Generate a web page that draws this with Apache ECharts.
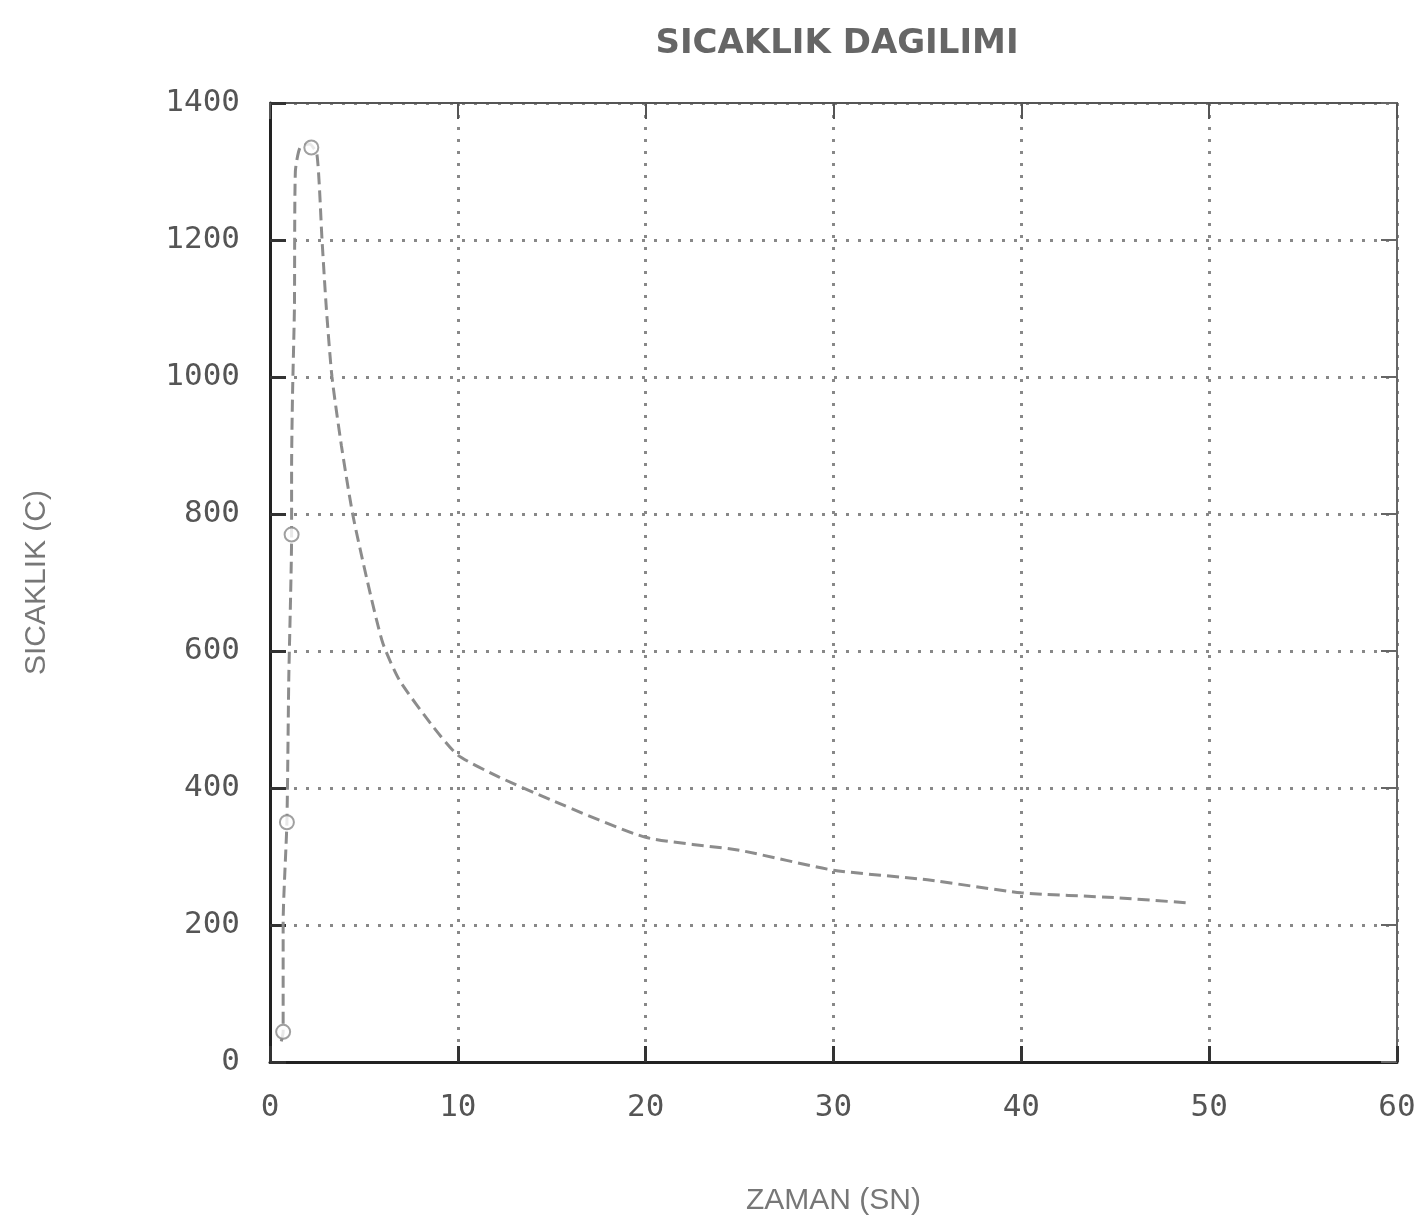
<!DOCTYPE html>
<html>
<head>
<meta charset="utf-8">
<script src="https://cdn.jsdelivr.net/npm/echarts@6/dist/echarts.min.js"></script>
<style>
  html, body { margin: 0; padding: 0; background: #fff; }
  #main { width: 1424px; height: 1230px; }
</style>
</head>
<body>
<div id="main"></div>
<script>
// zaman (sn) / sicaklik (C) values
var zaman = [0.6, 0.7, 0.7, 0.9, 1.0, 1.15, 1.15, 1.2, 1.3, 1.35, 1.6, 2.1, 2.5, 2.77, 3.0, 3.3, 3.8, 4.4, 5.2, 6.0, 6.9, 8.7, 10, 12.2, 15, 20, 25, 30, 35, 40, 45, 49];
var sicaklik = [30, 44, 204, 350, 560, 770, 870, 975, 1100, 1300, 1335, 1340, 1325, 1200, 1100, 1000, 900, 800, 700, 612, 557, 489, 448, 416, 382, 328, 309, 280, 266, 247, 240, 232];

// points drawn with circle markers
var markZaman = [0.7, 0.9, 1.15, 2.2];
var markSicaklik = [44, 350, 770, 1335];

var chart = echarts.init(document.getElementById('main'));

var lineData = [];
for (var i = 0; i < zaman.length; i++) {
  lineData.push([zaman[i], sicaklik[i]]);
}
var markData = [];
for (var j = 0; j < markZaman.length; j++) {
  markData.push([markZaman[j], markSicaklik[j]]);
}

var labelFont = {
  color: '#555',
  fontSize: 31,
  fontFamily: 'DejaVu Sans Mono'
};

var option = {
  backgroundColor: '#fff',
  animation: false,
  title: {
    text: 'SICAKLIK DAGILIMI',
    left: 832,
    top: 22,
    textAlign: 'center',
    textStyle: {
      color: '#666',
      fontSize: 34,
      fontWeight: 'bold',
      fontFamily: 'DejaVu Sans'
    }
  },
  grid: {
    left: 270,
    right: 27,
    top: 103,
    bottom: 168
  },
  xAxis: [{
    type: 'value',
    min: 0,
    max: 60,
    interval: 10,
    name: 'ZAMAN (SN)',
    nameLocation: 'middle',
    nameGap: 124,
    nameTextStyle: { color: '#777', fontSize: 30, fontFamily: 'Liberation Sans' },
    axisLine: { show: true, onZero: false, lineStyle: { color: '#222', width: 3 } },
    axisTick: { show: true, inside: true, length: 16, lineStyle: { color: '#333', width: 3 } },
    axisLabel: {
      margin: 30,
      color: labelFont.color,
      fontSize: labelFont.fontSize,
      fontFamily: labelFont.fontFamily
    },
    splitLine: { show: true, lineStyle: { color: '#888', type: [3, 9], width: 3 } }
  }, {
    type: 'value',
    position: 'top',
    min: 0,
    max: 60,
    interval: 10,
    axisLine: { show: true, onZero: false, lineStyle: { color: '#555', width: 2 } },
    axisTick: { show: true, inside: true, length: 16, lineStyle: { color: '#555', width: 2 } },
    axisLabel: { show: false },
    splitLine: { show: false }
  }],
  yAxis: [{
    type: 'value',
    min: 0,
    max: 1400,
    interval: 200,
    name: 'SICAKLIK (C)',
    nameLocation: 'middle',
    nameGap: 218,
    nameRotate: 90,
    nameTextStyle: { color: '#777', fontSize: 30, fontFamily: 'Liberation Sans' },
    axisLine: { show: true, onZero: false, lineStyle: { color: '#222', width: 3 } },
    axisTick: { show: true, inside: true, length: 16, lineStyle: { color: '#333', width: 3 } },
    axisLabel: {
      margin: 30,
      formatter: function (v) { return String(v); },
      color: labelFont.color,
      fontSize: labelFont.fontSize,
      fontFamily: labelFont.fontFamily
    },
    splitLine: { show: true, lineStyle: { color: '#888', type: [3, 9], width: 3 } }
  }, {
    type: 'value',
    position: 'right',
    min: 0,
    max: 1400,
    interval: 200,
    axisLine: { show: true, onZero: false, lineStyle: { color: '#666', width: 2 } },
    axisTick: { show: true, inside: true, length: 16, lineStyle: { color: '#666', width: 2 } },
    axisLabel: { show: false },
    splitLine: { show: false }
  }],
  series: [{
    name: 'sicaklik',
    type: 'line',
    data: lineData,
    showSymbol: false,
    smooth: 0.2,
    lineStyle: { color: '#8c8c8c', width: 3, type: [12, 6] },
    z: 3
  }, {
    name: 'nokta',
    type: 'scatter',
    data: markData,
    symbol: 'circle',
    symbolSize: 14,
    itemStyle: { color: '#fff', borderColor: '#888', borderWidth: 2 },
    z: 4
  }]
};

chart.setOption(option);
</script>
</body>
</html>
